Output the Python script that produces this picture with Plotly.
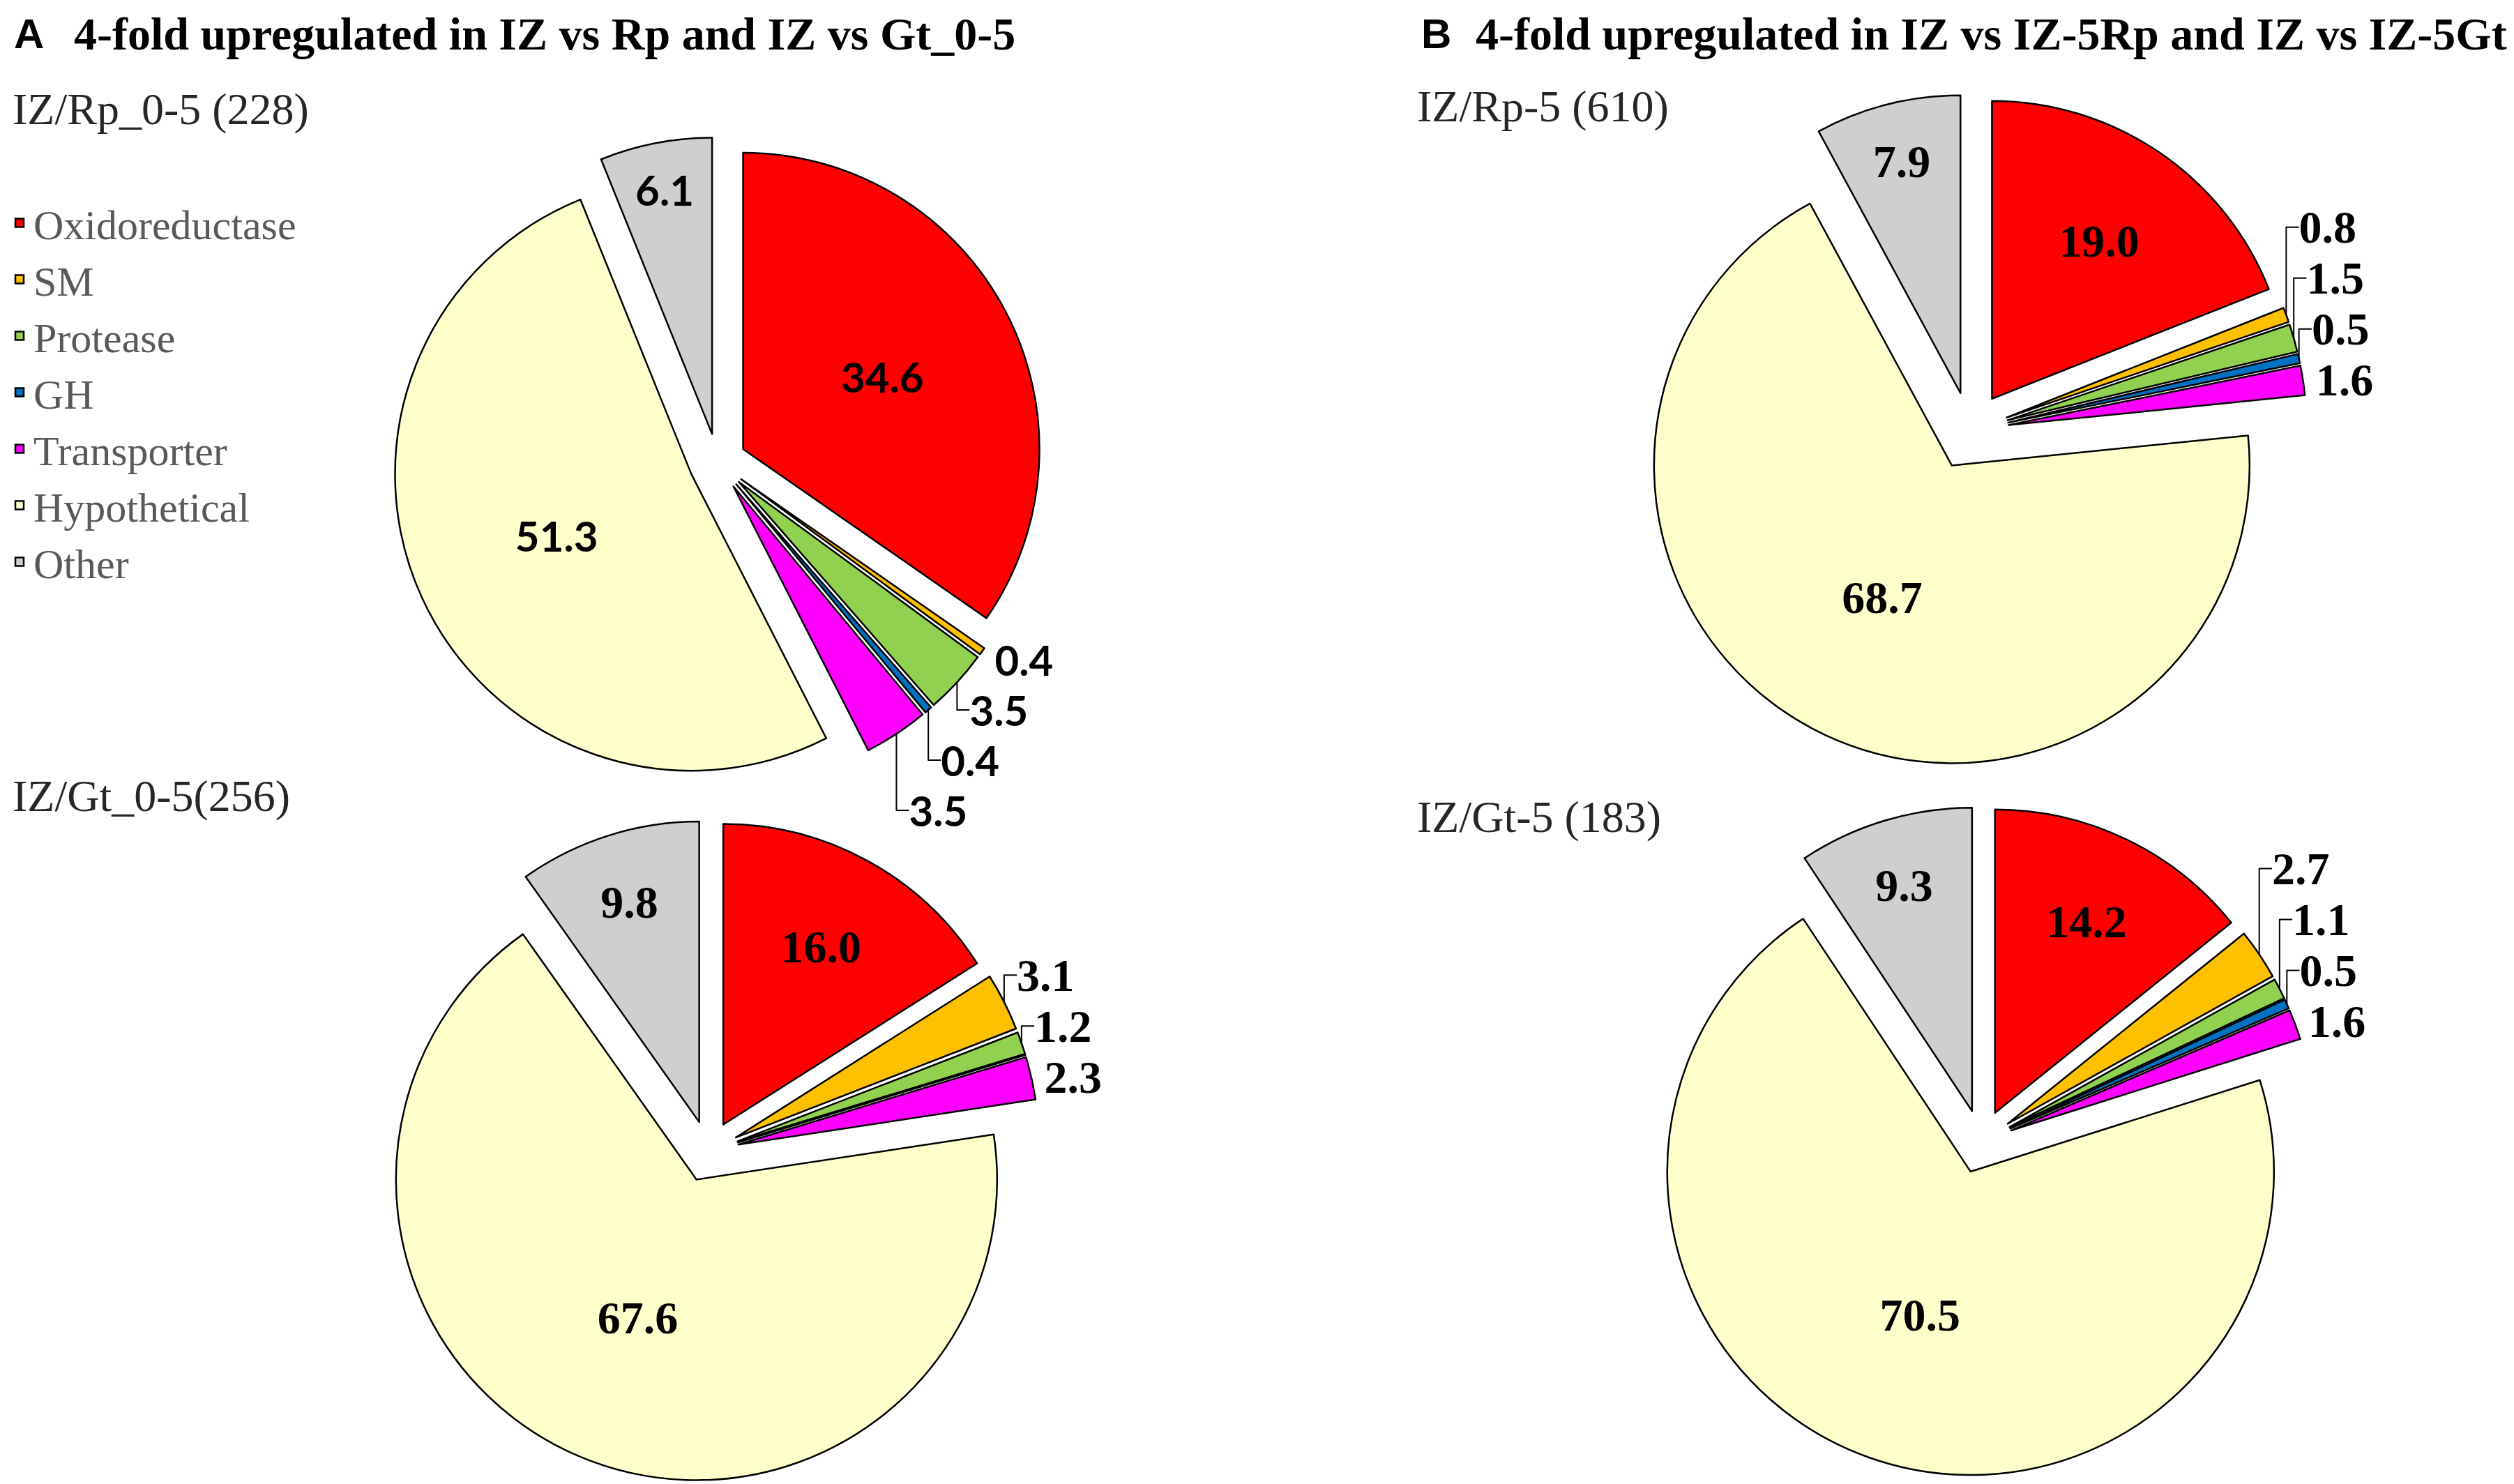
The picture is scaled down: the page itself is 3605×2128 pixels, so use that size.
import plotly.graph_objects as go

# ---------------- data ----------------
categories = ["Oxidoreductase", "SM", "Protease", "GH", "Transporter", "Hypothetical", "Other"]

a_top_values = [34.6, 0.4, 3.5, 0.4, 3.5, 51.3, 6.1]      # IZ/Rp_0-5 (228)
a_bottom_values = [16.0, 3.1, 1.2, 0.0, 2.3, 67.6, 9.8]   # IZ/Gt_0-5(256)
b_top_values = [19.0, 0.8, 1.5, 0.5, 1.6, 68.7, 7.9]      # IZ/Rp-5 (610)
b_bottom_values = [14.2, 2.7, 1.1, 0.5, 1.6, 70.5, 9.3]   # IZ/Gt-5 (183)

panel_a_title = "4-fold upregulated in IZ vs Rp and IZ vs Gt_0-5"
panel_b_title = "4-fold upregulated in IZ vs IZ-5Rp and IZ vs IZ-5Gt"
pie_titles = ["IZ/Rp_0-5 (228)", "IZ/Gt_0-5(256)", "IZ/Rp-5 (610)", "IZ/Gt-5 (183)"]

# ---------------- style ----------------
W, H = 3605, 2128
colors = ["#FF0000", "#FFC000", "#92D050", "#0070C0", "#FF00FF", "#FFFFCC", "#D0CECE"]
SERIF = "Liberation Serif, Times New Roman, serif"
SANS = "Liberation Sans, Arial, sans-serif"
CALIBRI_LIKE = "Lato, Carlito, Calibri, sans-serif"

# pie placement: centre (px), radius (px), pull fraction
pie_layout = [
    dict(cx=1021, cy=655, r=425, pull=0.097, font=CALIBRI_LIKE, size=60),
    dict(cx=1008, cy=1643, r=431, pull=0.102, font=SERIF, size=66),
    dict(cx=2817, cy=610, r=427, pull=0.131, font=SERIF, size=66),
    dict(cx=2833, cy=1629, r=435, pull=0.105, font=SERIF, size=66),
]
all_values = [a_top_values, a_bottom_values, b_top_values, b_bottom_values]


def domain(cx, cy, r, pull):
    half = r * (1 + pull)
    return dict(x=[max(0, (cx - half) / W), min(1, (cx + half) / W)],
                y=[max(0, 1 - (cy + half) / H), min(1, 1 - (cy - half) / H)])


fig = go.Figure()
for i, (vals, pl) in enumerate(zip(all_values, pie_layout)):
    texts = [("%.1f" % v) if v > 0 else "" for v in vals]
    positions = ["inside" if v >= 5 else "outside" for v in vals]
    tf = dict(family=pl["font"], size=pl["size"], color="black", weight="bold")
    fig.add_trace(go.Pie(
        labels=categories,
        values=vals,
        text=texts,
        textinfo="text",
        textposition=positions,
        insidetextorientation="horizontal",
        sort=False,
        direction="clockwise",
        rotation=0,
        pull=[pl["pull"]] * len(vals),
        marker=dict(colors=colors, line=dict(color="black", width=2.5)),
        textfont=tf,
        insidetextfont=tf,
        outsidetextfont=tf,
        domain=domain(pl["cx"], pl["cy"], pl["r"], pl["pull"]),
        showlegend=(i == 0),
        automargin=False,
        hoverinfo="label+value",
    ))

annotations = [
    dict(text="<b>A</b>", x=10 / W, y=1 - 40 / H, font=dict(family=SANS, size=60, color="black")),
    dict(text="<b>" + panel_a_title + "</b>", x=96 / W, y=1 - 40 / H,
         font=dict(family=SERIF, size=66, color="black")),
    dict(text="<b>B</b>", x=2028 / W, y=1 - 40 / H, font=dict(family=SANS, size=60, color="black")),
    dict(text="<b>" + panel_b_title + "</b>", x=2106 / W, y=1 - 40 / H,
         font=dict(family=SERIF, size=66, color="black")),
    dict(text=pie_titles[0], x=8 / W, y=1 - 148 / H, font=dict(family=SERIF, size=64, color="#262626")),
    dict(text=pie_titles[1], x=8 / W, y=1 - 1133 / H, font=dict(family=SERIF, size=64, color="#262626")),
    dict(text=pie_titles[2], x=2022 / W, y=1 - 144 / H, font=dict(family=SERIF, size=64, color="#262626")),
    dict(text=pie_titles[3], x=2022 / W, y=1 - 1163 / H, font=dict(family=SERIF, size=64, color="#262626")),
]
for a in annotations:
    a.update(xref="paper", yref="paper", xanchor="left", yanchor="middle", showarrow=False)

fig.update_layout(
    width=W, height=H,
    autosize=False,
    margin=dict(l=0, r=0, t=0, b=0, pad=0, autoexpand=False),
    paper_bgcolor="white",
    plot_bgcolor="white",
    annotations=annotations,
    legend=dict(
        x=0.0, y=1 - 266 / H, xanchor="left", yanchor="top",
        font=dict(family=SERIF, size=60, color="#595959"),
        bgcolor="rgba(0,0,0,0)", traceorder="normal",
    ),
)

fig.write_html("out.html")
